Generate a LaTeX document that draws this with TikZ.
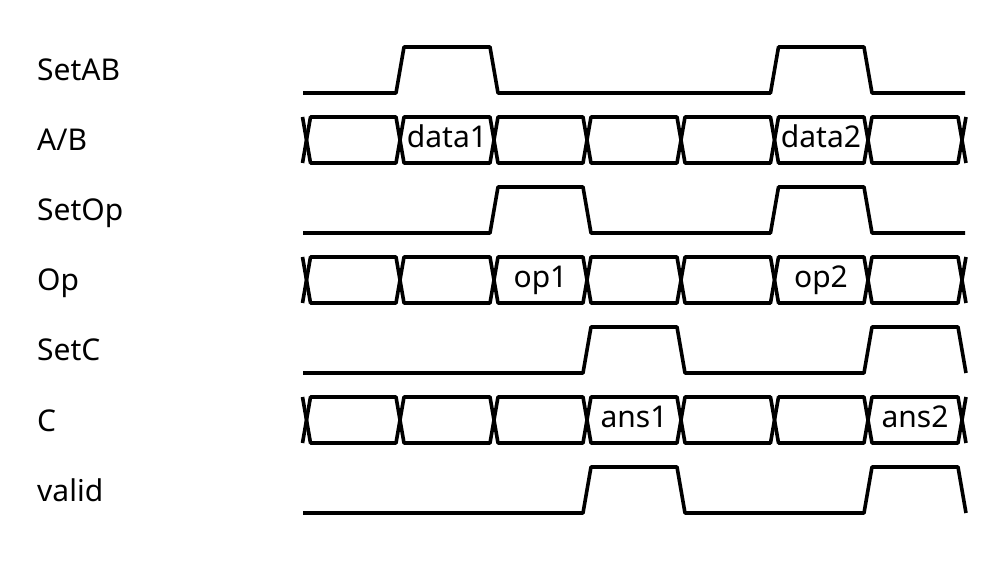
\documentclass[tikz,border=0pt]{standalone}
\usepackage{fontspec}
\setmainfont{Noto Sans}
\begin{document}
\begin{tikzpicture}[
            x=1pt, y=-1pt,
            wave/.style={draw, line width=3.6pt, line join=round},
            sig_name/.style={font=\fontsize{30}{36}\selectfont, anchor=base west, inner sep=0pt},
            bus_text/.style={font=\fontsize{30}{36}\selectfont, anchor=base, inner sep=0pt}
        ]
        \useasboundingbox (0,0) rectangle (997,572);

        % Signal names
        \node[sig_name] (setab) at (37,81) {SetAB};
        \node[sig_name] (ab) at (37,151) {A/B};
        \node[sig_name] (setop) at (37,221) {SetOp};
        \node[sig_name] (op) at (37,291) {Op};
        \node[sig_name] (setc) at (37,361) {SetC};
        \node[sig_name] (c) at (37,431) {C};
        \node[sig_name] (valid) at (37,501) {valid};

        % Control signals
        \draw[wave] (303,93) -- (396,93) -- (404,47) -- (490,47) -- (498,93)
            -- (770.5,93) -- (778.5,47) -- (864,47) -- (872,93) -- (965,93);
        \draw[wave] (303,233) -- (490,233) -- (498,187) -- (583,187) -- (591,233)
            -- (770.5,233) -- (778.5,187) -- (864,187) -- (872,233) -- (965,233);
        \draw[wave] (303,373) -- (583,373) -- (591,327) -- (677,327) -- (685,373)
            -- (864,373) -- (872,327) -- (958,327) -- (966,373);
        \draw[wave] (303,513) -- (583,513) -- (591,467) -- (677,467) -- (685,513)
            -- (864,513) -- (872,467) -- (958,467) -- (966,513);

        % Buses
        \foreach \ym in {140,280,420} {
            \foreach \xa/\xb in {306.5/400, 400/494, 494/587, 587/681, 681/774.5, 774.5/868, 868/962} {
                \draw[wave] (\xa,\ym) -- (\xa+4,\ym-23) -- (\xb-4,\ym-23) -- (\xb,\ym)
                    -- (\xb-4,\ym+23) -- (\xa+4,\ym+23) -- cycle;
            }
            \draw[wave] (302.5,\ym-23) -- (306.5,\ym) -- (302.5,\ym+23);
            \draw[wave] (966,\ym-23) -- (962,\ym) -- (966,\ym+23);
        }

        % Bus values
        \node[bus_text] (data1) at (447,148) {data1};
        \node[bus_text] (data2) at (821,148) {data2};
        \node[bus_text] (op1) at (540.5,288) {op1};
        \node[bus_text] (op2) at (821,288) {op2};
        \node[bus_text] (ans1) at (634,428) {ans1};
        \node[bus_text] (ans2) at (915,428) {ans2};

    \end{tikzpicture}
\end{document}
